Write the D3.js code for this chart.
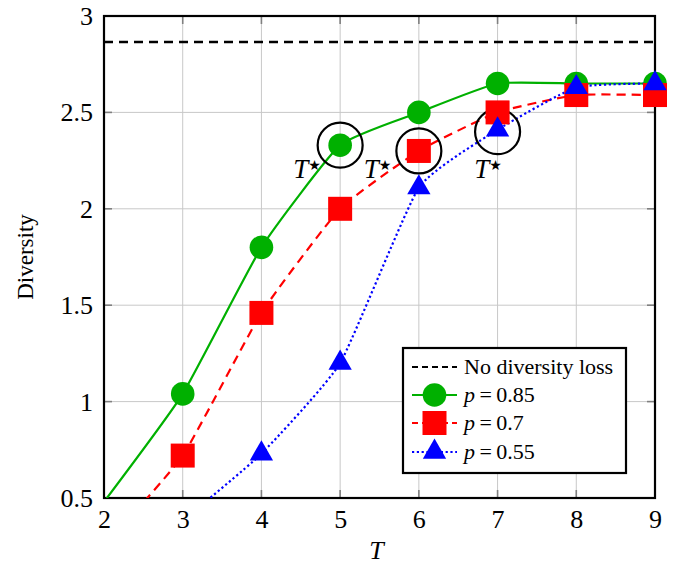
<!DOCTYPE html>
<html><head><meta charset="utf-8">
<script src="https://cdn.jsdelivr.net/npm/d3@7"></script>
<style>body{margin:0;background:#fff}svg{display:block}svg text{font-family:"Liberation Serif","Times New Roman",serif;fill:#000}</style>
</head><body>
<svg id="c" width="677" height="566"></svg>
<script>
const T = [2, 3, 4, 5, 6, 7, 8, 9];
const p085 = [0.48, 1.04, 1.80, 2.33, 2.50, 2.65, 2.65, 2.65];
const p070 = [0.25, 0.72, 1.46, 2.00, 2.30, 2.50, 2.59, 2.59];
const p055 = [0.00, 0.38, 0.73, 1.20, 2.11, 2.41, 2.63, 2.65];
const noLoss = 2.865;
const xTicks = [2, 3, 4, 5, 6, 7, 8, 9];
const yTicks = [0.5, 1, 1.5, 2, 2.5, 3];
const yTickLabels = ["0.5", "1", "1.5", "2", "2.5", "3"];
const optX = [5, 6, 7];
const optY = [2.33, 2.30, 2.40];
const optLabelX = [4.58, 5.475, 6.88];
const optLabelY = [2.16, 2.16, 2.16];

const svg = d3.select("#c");
const L = 104, R = 655, Tp = 16, B = 498;
const x = d3.scaleLinear().domain([2, 9]).range([L, R]);
const y = d3.scaleLinear().domain([0.5, 3]).range([B, Tp]);

svg.append("defs").append("clipPath").attr("id", "clip")
  .append("rect").attr("x", L).attr("y", Tp).attr("width", R - L).attr("height", B - Tp);

// grid
const grid = svg.append("g");
grid.selectAll(".gx").data(xTicks).join("line")
  .attr("x1", d => x(d)).attr("x2", d => x(d)).attr("y1", Tp).attr("y2", B)
  .attr("stroke", "#c8c8c8").attr("stroke-width", 1);
grid.selectAll(".gy").data(yTicks).join("line")
  .attr("y1", d => y(d)).attr("y2", d => y(d)).attr("x1", L).attr("x2", R)
  .attr("stroke", "#c8c8c8").attr("stroke-width", 1);

// ticks (inside, gray)
const tk = svg.append("g").attr("stroke", "#808080").attr("stroke-width", 1.6);
xTicks.forEach(d => {
  tk.append("line").attr("x1", x(d)).attr("x2", x(d)).attr("y1", B).attr("y2", B - 8);
  tk.append("line").attr("x1", x(d)).attr("x2", x(d)).attr("y1", Tp).attr("y2", Tp + 8);
});
yTicks.forEach(d => {
  tk.append("line").attr("y1", y(d)).attr("y2", y(d)).attr("x1", L).attr("x2", L + 8);
  tk.append("line").attr("y1", y(d)).attr("y2", y(d)).attr("x1", R).attr("x2", R - 8);
});

// axes with d3 for labels
const xAxis = d3.axisBottom(x).tickValues(xTicks).tickSize(0).tickPadding(12).tickFormat(d3.format("d"));
const gx = svg.append("g").attr("transform", `translate(0,${B})`).call(xAxis);
gx.attr("font-family", null).attr("font-size", null);
gx.select(".domain").remove();
gx.selectAll("text").style("font-size", "26px").attr("dy", "0.68em");
const yAxis = d3.axisLeft(y).tickValues(yTicks).tickSize(0).tickPadding(11).tickFormat((d, i) => yTickLabels[i]);
const gy = svg.append("g").attr("transform", `translate(${L},0)`).call(yAxis);
gy.attr("font-family", null).attr("font-size", null);
gy.select(".domain").remove();
gy.selectAll("text").style("font-size", "26px").attr("dy", "0.33em");

// axis titles
svg.append("text").attr("x", (L + R) / 2 - 3).attr("y", 559).attr("text-anchor", "middle")
  .style("font-size", "26px").attr("font-style", "italic").text("T");
svg.append("text").attr("transform", `translate(33,${(Tp + B) / 2}) rotate(-90)`)
  .attr("text-anchor", "middle").style("font-size", "23px").text("Diversity");

// frame
svg.append("rect").attr("x", L).attr("y", Tp).attr("width", R - L).attr("height", B - Tp)
  .attr("fill", "none").attr("stroke", "#000").attr("stroke-width", 2.2);

const plot = svg.append("g").attr("clip-path", "url(#clip)");
// no diversity loss
plot.append("line").attr("x1", L).attr("x2", R).attr("y1", y(noLoss)).attr("y2", y(noLoss))
  .attr("stroke", "#000").attr("stroke-width", 2.4).attr("stroke-dasharray", "9,6");

// optimum circles
svg.selectAll(".opt").data(optX).join("circle")
  .attr("cx", d => x(d)).attr("cy", (d, i) => y(optY[i])).attr("r", 22.5)
  .attr("fill", "none").attr("stroke", "#000").attr("stroke-width", 2.2);

const line = d3.line().x((d, i) => x(T[i])).y(d => y(d)).curve(d3.curveCardinal.tension(0.55));
const series = [
  {vals: p085, color: "#00b000", dash: null, shape: "circle"},
  {vals: p070, color: "#ff0000", dash: "9,6", shape: "square"},
  {vals: p055, color: "#0000ff", dash: "2.2,2.6", shape: "triangle"}
];
const shapes = {
  circle: d3.symbol().type(d3.symbolCircle).size(Math.PI * 11.8 * 11.8),
  square: d3.symbol().type(d3.symbolSquare).size(24 * 24),
  triangle: d3.symbol().type(d3.symbolTriangle).size(235)
};
series.forEach(s => {
  plot.append("path").attr("d", line(s.vals)).attr("fill", "none")
    .attr("stroke", s.color).attr("stroke-width", 2.2)
    .attr("stroke-dasharray", s.dash);
  const pts = s.vals.map((v, i) => ({x: T[i], v})).filter(p => p.v >= 0.5);
  svg.selectAll(null).data(pts).join("path")
    .attr("transform", p => `translate(${x(p.x)},${y(p.v)})`)
    .attr("d", shapes[s.shape]()).attr("fill", s.color);
});

// T* labels
optLabelX.forEach((lx, i) => {
  const t = svg.append("text").attr("x", x(lx)).attr("y", y(optLabelY[i]))
    .attr("text-anchor", "middle").style("font-size", "27px");
  t.append("tspan").attr("font-style", "italic").text("T");
  t.append("tspan").style("font-size", "14px").style("font-family", "DejaVu Sans")
    .attr("dy", -8).attr("dx", 0).text("\u2605");
});

// legend
const lg = svg.append("g");
lg.append("rect").attr("x", 403).attr("y", 348).attr("width", 223).attr("height", 125)
  .attr("fill", "#fff").attr("stroke", "#000").attr("stroke-width", 2.2);
const legendRows = [
  {label: null, text: "No diversity loss", color: "#000", dash: "6,4", shape: null},
  {label: "0.85", color: "#00b000", dash: null, shape: "circle"},
  {label: "0.7", color: "#ff0000", dash: "6,4", shape: "square"},
  {label: "0.55", color: "#0000ff", dash: "2.2,2.6", shape: "triangle"}
];
const rowY = [367, 395, 423, 452];
legendRows.forEach((r, i) => {
  const yy = rowY[i];
  lg.append("line").attr("x1", 412).attr("x2", 457).attr("y1", yy).attr("y2", yy)
    .attr("stroke", r.color).attr("stroke-width", 2.2).attr("stroke-dasharray", r.dash);
  if (r.shape) {
    lg.append("path").attr("transform", `translate(434.5,${yy})`)
      .attr("d", shapes[r.shape]()).attr("fill", r.color);
  }
  const t = lg.append("text").attr("x", 464).attr("y", yy + 7).style("font-size", "22px");
  if (r.label === null) t.text(r.text);
  else {
    t.append("tspan").attr("font-style", "italic").text("p");
    t.append("tspan").text("\u2009=\u2009" + r.label);
  }
});
</script>
</body></html>
